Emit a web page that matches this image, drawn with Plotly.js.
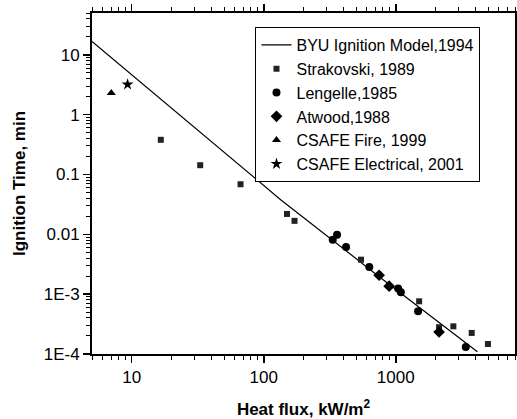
<!DOCTYPE html>
<html>
<head>
<meta charset="utf-8">
<script src="https://cdn.plot.ly/plotly-3.0.1.min.js"></script>
<style>html,body{margin:0;padding:0;background:#fff;}#chart{width:517px;height:419px;}</style>
</head>
<body>
<div id="chart"></div>
<script>
// BYU Ignition Model, 1994 (line)
var modelX = [5.0, 135, 749, 4150];
var modelY = [16.7, 0.0376, 0.00196, 1.09e-4];
// Strakovski, 1989
var strakX = [16.6, 33, 66.7, 150, 171, 545, 1503, 2128, 2730, 3760, 4990];
var strakY = [0.38, 0.143, 0.0687, 0.0219, 0.0168, 0.00377, 7.6e-4, 2.8e-4, 2.9e-4, 2.25e-4, 1.47e-4];
// Lengelle, 1985
var lengX = [333, 359, 420, 630, 1042, 1093, 1476, 3390];
var lengY = [0.00815, 0.00988, 0.00615, 0.00285, 0.00124, 0.00108, 5.18e-4, 1.31e-4];
// Atwood, 1988
var atwX = [748, 891, 2128];
var atwY = [0.00207, 0.00136, 2.33e-4];
// CSAFE Fire, 1999
var fireX = [7.0];
var fireY = [2.3];
// CSAFE Electrical, 2001
var elecX = [9.3];
var elecY = [3.2];

var xTickVals = [10, 100, 1000];
var xTickText = ['10', '100', '1000'];
var yTickVals = [10, 1, 0.1, 0.01, 0.001, 0.0001];
var yTickText = ['10', '1', '0.1', '0.01', '1E-3', '1E-4'];

function minorTicks(lo, hi) {
  var out = [];
  for (var d = lo; d <= hi; d *= 10) {
    for (var m = 2; m <= 9; m++) out.push(d * m);
  }
  return out;
}

var font = 'Arial, "Liberation Sans", sans-serif';
var traces = [
  {x: modelX, y: modelY, mode: 'lines', name: 'BYU Ignition Model,1994',
   line: {color: '#000', width: 1.2}},
  {x: strakX, y: strakY, mode: 'markers', name: 'Strakovski, 1989',
   marker: {symbol: 'square', size: 6, color: '#222'}},
  {x: lengX, y: lengY, mode: 'markers', name: 'Lengelle,1985',
   marker: {symbol: 'circle', size: 8, color: '#000'}},
  {x: atwX, y: atwY, mode: 'markers', name: 'Atwood,1988',
   marker: {symbol: 'diamond', size: 9, color: '#000'}},
  {x: fireX, y: fireY, mode: 'markers', name: 'CSAFE Fire, 1999',
   marker: {symbol: 'triangle-up', size: 8, color: '#000'}},
  {x: elecX, y: elecY, mode: 'markers', name: 'CSAFE Electrical, 2001',
   marker: {symbol: 'star', size: 9, color: '#000'}}
];

var layout = {
  width: 517, height: 419,
  margin: {l: 92, r: 2, t: 13, b: 65},
  paper_bgcolor: '#fff', plot_bgcolor: '#fff',
  font: {family: font, color: '#000', size: 17},
  showlegend: true,
  legend: {x: 0.3865, y: 0.959, xanchor: 'left', yanchor: 'top',
           bordercolor: '#000', borderwidth: 1, bgcolor: '#fff',
           entrywidth: 195, entrywidthmode: 'pixels',
           font: {family: font, size: 16, color: '#000'}},
  xaxis: {type: 'log', range: [Math.log10(5), Math.log10(8000)],
          showgrid: false, zeroline: false, showline: true, linecolor: '#000', linewidth: 2,
          mirror: 'ticks', ticks: 'outside', ticklen: 7, tickwidth: 1.5, tickcolor: '#000',
          tickvals: xTickVals, ticktext: xTickText,
          tickfont: {family: font, size: 17},
          minor: {tickvals: minorTicks(1, 1000), ticks: 'outside', ticklen: 4, tickwidth: 1, tickcolor: '#000'},
          title: {text: '<b>Heat flux, kW/m<sup>2</sup></b>', font: {family: font, size: 17}, standoff: 18}},
  yaxis: {type: 'log', range: [-4, Math.log10(50)],
          showgrid: false, zeroline: false, showline: true, linecolor: '#000', linewidth: 2,
          mirror: 'ticks', ticks: 'outside', ticklen: 7, tickwidth: 1.5, tickcolor: '#000',
          tickvals: yTickVals, ticktext: yTickText,
          tickfont: {family: font, size: 17},
          minor: {tickvals: minorTicks(0.0001, 10), ticks: 'outside', ticklen: 4, tickwidth: 1, tickcolor: '#000'},
          title: {text: '<b>Ignition Time, min</b>', font: {family: font, size: 17}, standoff: 14}}
};

Plotly.newPlot('chart', traces, layout, {displayModeBar: false, staticPlot: true});
</script>
</body>
</html>
